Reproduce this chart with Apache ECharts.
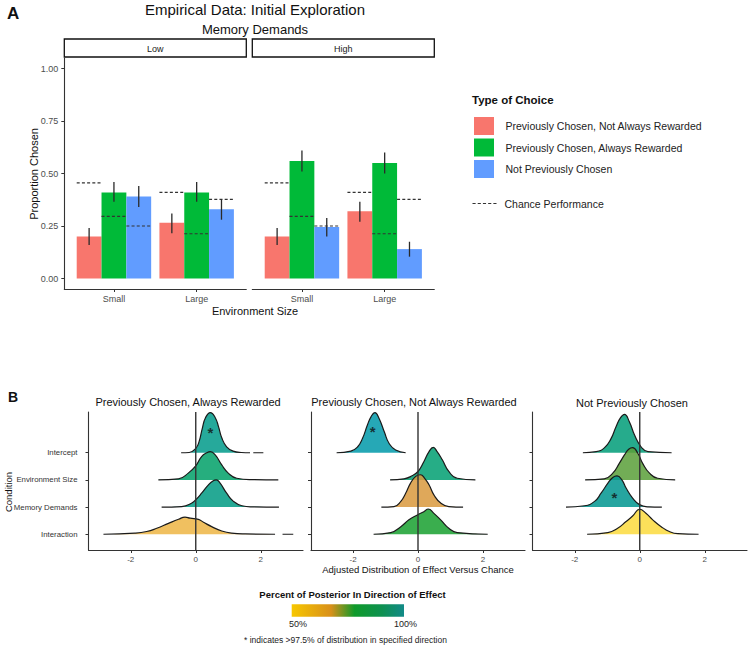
<!DOCTYPE html>
<html><head><meta charset="utf-8">
<script src="https://cdn.jsdelivr.net/npm/echarts@6/dist/echarts.min.js"></script>
<style>html,body{margin:0;padding:0;background:#fff}#chart{width:750px;height:646px}</style>
</head><body><div id="chart"></div>
<script>
// ================= Panel A data =================
const envSizes = ['Small', 'Large'];
const memoryLevels = ['Low', 'High'];
const choiceTypes = ['Previously Chosen, Not Always Rewarded', 'Previously Chosen, Always Rewarded', 'Not Previously Chosen'];
const yTicksA = [0, 0.25, 0.5, 0.75, 1.0];
// value order: Low-Small, Low-Large, High-Small, High-Large
const propNotAlways = [0.20, 0.265, 0.20, 0.32];
const propAlways    = [0.41, 0.41, 0.56, 0.55];
const propNotPrev   = [0.39, 0.33, 0.245, 0.14];
const errLoNotAlways = [0.16, 0.215, 0.16, 0.27];
const errHiNotAlways = [0.24, 0.31, 0.24, 0.365];
const errLoAlways    = [0.365, 0.365, 0.51, 0.50];
const errHiAlways    = [0.46, 0.46, 0.61, 0.60];
const errLoNotPrev   = [0.34, 0.28, 0.20, 0.104];
const errHiNotPrev   = [0.44, 0.378, 0.288, 0.175];
const chanceNotAlways = [0.455, 0.41, 0.455, 0.41];
const chanceAlways    = [0.296, 0.213, 0.296, 0.213];
const chanceNotPrev   = [0.25, 0.377, 0.25, 0.377];

// ================= Panel B data (ridgeline densities: [effect, height in rows]) =================
const ridgeConditions = ['Intercept', 'Environment Size', 'Memory Demands', 'Interaction'];
const ridgePanelTitles = ['Previously Chosen, Always Rewarded', 'Previously Chosen, Not Always Rewarded', 'Not Previously Chosen'];
const xTicksB = [-2, 0, 2];
// Previously Chosen, Always Rewarded
const rAlwaysIntercept = [[-0.45,0],[-0.2,0.01],[0,0.16],[0.1,0.4],[0.2,0.89],[0.3,1.29],[0.45,1.48],[0.6,1.29],[0.7,0.96],[0.8,0.55],[0.95,0.22],[1.15,0.06],[1.4,0.01],[1.67,0],[1.72,'-'],[1.77,0],[2.08,0]];
const rAlwaysEnv = [[-1.15,0],[-0.53,0.04],[-0.23,0.25],[0,0.52],[0.18,0.86],[0.34,1.0],[0.45,1.04],[0.6,0.92],[0.8,0.55],[1.0,0.25],[1.26,0.06],[1.72,0.01],[2.54,0]];
const rAlwaysMemory = [[-1.05,0],[-0.43,0.02],[-0.12,0.15],[0,0.27],[0.18,0.51],[0.39,0.82],[0.54,0.97],[0.63,1.0],[0.75,0.88],[0.95,0.51],[1.16,0.21],[1.42,0.05],[1.72,0.01],[2.56,0]];
const rAlwaysInteraction = [[-2.84,0],[-1.87,0.04],[-1.51,0.1],[-1.2,0.22],[-0.84,0.4],[-0.53,0.55],[-0.33,0.63],[-0.17,0.59],[0.08,0.55],[0.24,0.44],[0.49,0.28],[0.8,0.12],[1.1,0.04],[1.52,0.01],[2.44,0],[2.55,'-'],[2.67,0],[3.0,0]];
// Previously Chosen, Not Always Rewarded
const rNotAlwaysIntercept = [[-2.51,0],[-2.07,0.06],[-1.86,0.22],[-1.71,0.53],[-1.56,1.02],[-1.45,1.32],[-1.33,1.48],[-1.2,1.26],[-1.04,0.77],[-0.89,0.34],[-0.69,0.1],[-0.38,0]];
const rNotAlwaysEnv = [[-0.86,0],[-0.43,0.04],[-0.23,0.12],[0,0.31],[0.18,0.67],[0.34,1.04],[0.47,1.2],[0.59,1.04],[0.75,0.74],[0.95,0.31],[1.21,0.06],[1.77,0]];
const rNotAlwaysMemory = [[-1.13,0],[-0.74,0.02],[-0.53,0.21],[-0.38,0.51],[-0.23,0.88],[-0.07,1.13],[0.08,1.19],[0.2,1.07],[0.34,0.82],[0.49,0.45],[0.7,0.15],[0.95,0.02],[1.39,0]];
const rNotAlwaysInteraction = [[-1.37,0],[-0.84,0.06],[-0.53,0.28],[-0.28,0.53],[-0.02,0.71],[0.18,0.83],[0.32,0.93],[0.49,0.77],[0.7,0.53],[0.95,0.22],[1.21,0.06],[2.15,0]];
// Not Previously Chosen
const rNotPrevIntercept = [[-1.75,0],[-1.34,0.04],[-1.09,0.18],[-0.88,0.53],[-0.73,0.96],[-0.59,1.29],[-0.47,1.41],[-0.32,1.14],[-0.16,0.65],[0.04,0.22],[0.25,0.04],[0.98,0]];
const rNotPrevEnv = [[-1.68,0],[-1.09,0.04],[-0.83,0.25],[-0.63,0.61],[-0.47,0.92],[-0.34,1.13],[-0.22,1.19],[-0.06,0.98],[0.09,0.61],[0.3,0.25],[0.55,0.06],[1.09,0]];
const rNotPrevMemory = [[-2.27,0],[-1.7,0.05],[-1.39,0.21],[-1.19,0.51],[-0.98,0.88],[-0.83,1.09],[-0.7,1.15],[-0.55,1.0],[-0.42,0.7],[-0.22,0.33],[-0.01,0.09],[0.25,0.01],[0.68,0]];
const rNotPrevInteraction = [[-1.62,0],[-0.98,0.06],[-0.68,0.22],[-0.42,0.47],[-0.22,0.67],[0,0.92],[0.19,0.77],[0.4,0.53],[0.66,0.28],[0.91,0.1],[1.17,0.02],[1.81,0]];
// significance stars: [panel, condition index, effect, height]
const starMarks = [[0, 0, 0.45, 0.89], [1, 0, -1.4, 0.92], [2, 2, -0.78, 0.51]];
const colorbarLabels = ['50%', '100%'];

// ================= styling =================
const FONT = 'Liberation Sans, Arial, sans-serif';
const barColors = ['#F8766D', '#00BA38', '#619CFF'];
const ridgeColors = [
  ['#009a89', '#00a067', '#009a83', '#edb544'],
  ['#0099a9', '#009f71', '#d9993d', '#17a02f'],
  ['#009c78', '#599f38', '#00958f', '#fbda3d']
];
const rowPos = [4, 3, 2, 1];

const props = [propNotAlways, propAlways, propNotPrev];
const errLo = [errLoNotAlways, errLoAlways, errLoNotPrev];
const errHi = [errHiNotAlways, errHiAlways, errHiNotPrev];
const chance = [chanceNotAlways, chanceAlways, chanceNotPrev];
const ridgePanels = [
  [rAlwaysIntercept, rAlwaysEnv, rAlwaysMemory, rAlwaysInteraction],
  [rNotAlwaysIntercept, rNotAlwaysEnv, rNotAlwaysMemory, rNotAlwaysInteraction],
  [rNotPrevIntercept, rNotPrevEnv, rNotPrevMemory, rNotPrevInteraction]
];

const grid = [
  {left: 64.3, top: 58, width: 182, height: 231},
  {left: 252.3, top: 58, width: 182, height: 231},
  {left: 88.5, top: 412, width: 214.5, height: 138},
  {left: 311, top: 412, width: 214, height: 138},
  {left: 532.5, top: 412, width: 214.5, height: 138}
];
const axisLineStyle = {color: '#333', width: 1.1};
const xAxis = [], yAxis = [];
for (let f = 0; f < 2; f++) {
  xAxis.push({gridIndex: f, type: 'value', min: 0.4, max: 2.6,
    axisLine: {show: true, onZero: false, lineStyle: axisLineStyle},
    axisTick: {show: true, customValues: [1, 2], length: 3, lineStyle: {color: '#333'}},
    axisLabel: {customValues: [1, 2], formatter: v => envSizes[Math.round(v) - 1], color: '#4d4d4d', fontSize: 9, margin: 5, fontFamily: FONT},
    splitLine: {show: false}});
  yAxis.push({gridIndex: f, type: 'value', min: -0.05, max: 1.05,
    axisLine: {show: f === 0, onZero: false, lineStyle: axisLineStyle},
    axisTick: {show: f === 0, customValues: yTicksA, length: 3, lineStyle: {color: '#333'}},
    axisLabel: {show: f === 0, customValues: yTicksA, formatter: v => v.toFixed(2), color: '#4d4d4d', fontSize: 9, margin: 6, fontFamily: FONT},
    splitLine: {show: false}});
}
for (let p = 0; p < 3; p++) {
  xAxis.push({gridIndex: 2 + p, type: 'value', min: -3.3, max: 3.3,
    axisLine: {show: true, onZero: false, lineStyle: axisLineStyle},
    axisTick: {show: true, customValues: xTicksB, length: 3, lineStyle: {color: '#333'}},
    axisLabel: {customValues: xTicksB, color: '#4d4d4d', fontSize: 8, margin: 5, fontFamily: FONT},
    splitLine: {show: false}});
  yAxis.push({gridIndex: 2 + p, type: 'value', min: 0.42, max: 5.5,
    axisLine: {show: true, onZero: false, lineStyle: axisLineStyle},
    axisTick: {show: true, customValues: rowPos, length: 3, lineStyle: {color: '#333'}},
    axisLabel: {show: p === 0, customValues: rowPos, formatter: v => ridgeConditions[rowPos.indexOf(Math.round(v))], color: '#333', fontSize: 7.8, margin: 11, fontFamily: FONT},
    splitLine: {show: false}});
}

const series = [];
for (let f = 0; f < 2; f++) {
  for (let t = 0; t < 3; t++) {
    series.push({type: 'bar', name: choiceTypes[t], xAxisIndex: f, yAxisIndex: f,
      data: envSizes.map((e, i) => [i + 1, props[t][f * 2 + i]]),
      barGap: 0, barCategoryGap: '10%', itemStyle: {color: barColors[t]}, z: 2});
  }
  const chanceData = [], errData = [];
  for (let t = 0; t < 3; t++) for (let i = 0; i < 2; i++) {
    chanceData.push([i + 1, t, chance[t][f * 2 + i]]);
    errData.push([i + 1, t, errLo[t][f * 2 + i], errHi[t][f * 2 + i]]);
  }
  series.push({type: 'custom', name: 'Chance Performance', xAxisIndex: f, yAxisIndex: f, data: chanceData,
    encode: {x: 0, y: 2}, itemStyle: {color: '#333'}, z: 4,
    renderItem: (params, api) => {
      const xc = api.value(0) + (api.value(1) - 1) * 0.3;
      const a = api.coord([xc - 0.15, api.value(2)]);
      const b = api.coord([xc + 0.15, api.value(2)]);
      return {type: 'line', shape: {x1: a[0], y1: a[1], x2: b[0], y2: b[1]},
        style: {stroke: '#333', lineWidth: 1.2, lineDash: [3, 2.2]}};
    }});
  series.push({type: 'custom', name: 'errbars', xAxisIndex: f, yAxisIndex: f, data: errData,
    encode: {x: 0, y: [2, 3]}, z: 5,
    renderItem: (params, api) => {
      const xc = api.value(0) + (api.value(1) - 1) * 0.3;
      const a = api.coord([xc, api.value(2)]);
      const b = api.coord([xc, api.value(3)]);
      return {type: 'line', shape: {x1: a[0], y1: a[1], x2: b[0], y2: b[1]},
        style: {stroke: '#2a2a2a', lineWidth: 1.3}};
    }});
}
ridgePanels.forEach((rows, p) => {
  rows.forEach((pts, r) => {
    const base = rowPos[r];
    series.push({type: 'line', name: ridgeConditions[r], xAxisIndex: 2 + p, yAxisIndex: 2 + p,
      data: pts.map(([x, h]) => [x, h === '-' ? '-' : base + h]),
      smooth: 0.5, symbol: 'none', connectNulls: false,
      lineStyle: {color: '#1a1a1a', width: 1.2},
      areaStyle: {color: ridgeColors[p][r], opacity: 0.85, origin: base},
      silent: true, z: 2});
  });
  series.push({type: 'line', name: 'zero', xAxisIndex: 2 + p, yAxisIndex: 2 + p,
    data: [[0, 0.42], [0, 5.5]], symbol: 'none', lineStyle: {color: '#333', width: 1.4}, silent: true, z: 3});
  const stars = starMarks.filter(s => s[0] === p).map(s => [s[2], rowPos[s[1]] + s[3]]);
  series.push({type: 'scatter', name: 'stars', xAxisIndex: 2 + p, yAxisIndex: 2 + p, data: stars,
    symbolSize: 1, itemStyle: {color: 'rgba(0,0,0,0)'}, z: 4, silent: true,
    label: {show: true, formatter: '*', position: 'inside', offset: [0, 4], color: '#111', fontSize: 15, fontWeight: 'bold', fontFamily: FONT}});
});

function txt(x, y, text, size, opts) {
  opts = opts || {};
  return {type: 'text', x: x, y: y, rotation: opts.rot || 0, z: 100,
    style: {text: text, fill: opts.color || '#111', fontSize: size, fontFamily: FONT,
      fontWeight: opts.bold ? 'bold' : 'normal', align: opts.align || 'center', verticalAlign: 'middle'}};
}
const graphic = [
  txt(7, 13, 'A', 17, {bold: true, align: 'left'}),
  txt(255, 9, 'Empirical Data: Initial Exploration', 15),
  txt(255, 29, 'Memory Demands', 13),
  {type: 'rect', shape: {x: 64.3, y: 39, width: 182, height: 18}, style: {fill: '#fff', stroke: '#111', lineWidth: 1.3}},
  {type: 'rect', shape: {x: 252.3, y: 39, width: 182, height: 18}, style: {fill: '#fff', stroke: '#111', lineWidth: 1.3}},
  txt(155.3, 48.5, memoryLevels[0], 9, {color: '#1a1a1a'}),
  txt(343.3, 48.5, memoryLevels[1], 9, {color: '#1a1a1a'}),
  txt(34, 174, 'Proportion Chosen', 11, {rot: Math.PI / 2}),
  txt(255, 311, 'Environment Size', 11),
  txt(472, 100, 'Type of Choice', 11.5, {bold: true, align: 'left'}),
  txt(8, 397, 'B', 14, {bold: true, align: 'left'}),
  txt(188, 402, ridgePanelTitles[0], 11),
  txt(414, 402, ridgePanelTitles[1], 11),
  txt(632, 403, ridgePanelTitles[2], 11),
  txt(8, 492, 'Condition', 9.5, {rot: Math.PI / 2}),
  txt(418, 569, 'Adjusted Distribution of Effect Versus Chance', 9.5),
  txt(352.5, 594.5, 'Percent of Posterior In Direction of Effect', 9.5, {bold: true}),
  {type: 'rect', shape: {x: 291.7, y: 604.3, width: 112.3, height: 12.4},
    style: {fill: {type: 'linear', x: 0, y: 0, x2: 1, y2: 0, colorStops: [
      {offset: 0, color: '#f7c700'}, {offset: 0.35, color: '#d8901a'}, {offset: 0.56, color: '#0f9a2a'},
      {offset: 0.8, color: '#0e9150'}, {offset: 1, color: '#128a88'}]}}},
  txt(298, 623.5, colorbarLabels[0], 9, {color: '#222'}),
  txt(405.5, 623.5, colorbarLabels[1], 9, {color: '#222'}),
  txt(244, 640, '* indicates >97.5% of distribution in specified direction', 8.5, {align: 'left', color: '#222'})
];

const chart = echarts.init(document.getElementById('chart'), null, {renderer: 'svg'});
chart.setOption({
  animation: false,
  backgroundColor: '#fff',
  textStyle: {fontFamily: FONT},
  grid: grid, xAxis: xAxis, yAxis: yAxis, series: series, graphic: graphic,
  legend: [
    {data: choiceTypes, orient: 'vertical', left: 474, top: 117, padding: 0, itemWidth: 20, itemHeight: 18, itemGap: 3.5,
      icon: 'rect', selectedMode: false, textStyle: {fontSize: 10.5, color: '#222', padding: [0, 0, 0, 6.5], fontFamily: FONT}},
    {data: [{name: 'Chance Performance', icon: 'path://M0,0h3v1h-3zM5,0h3v1h-3zM10,0h3v1h-3zM15,0h3v1h-3zM20,0h3v1h-3z'}],
      left: 472.5, top: 198, padding: 0, itemWidth: 24, itemHeight: 1.5, selectedMode: false,
      textStyle: {fontSize: 10.5, color: '#222', padding: [0, 0, 0, 3], fontFamily: FONT}}
  ]
});
</script></body></html>
